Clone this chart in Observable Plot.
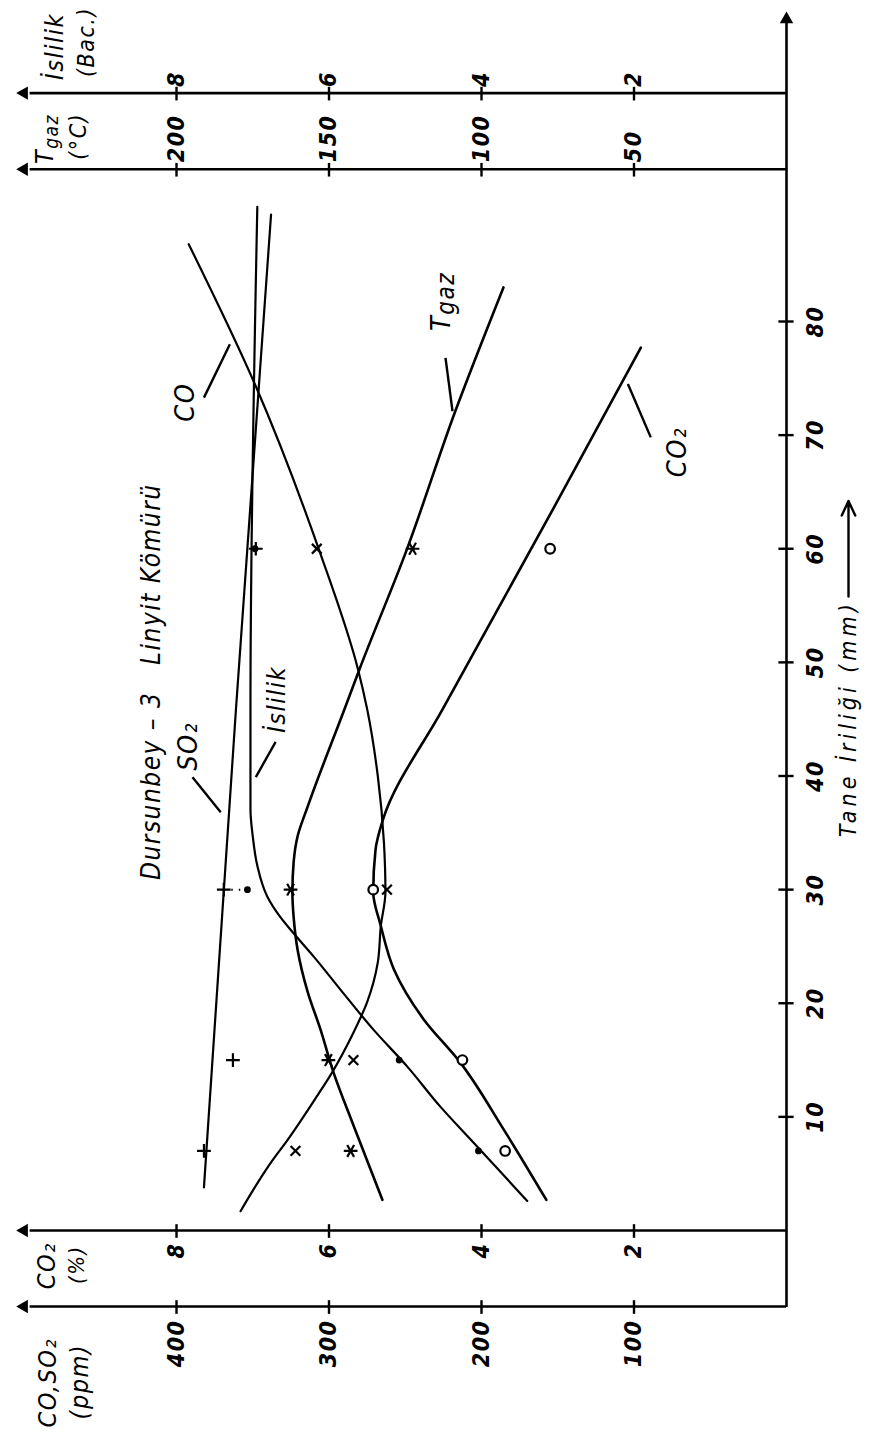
<!DOCTYPE html>
<html>
<head>
<meta charset="utf-8">
<script src="https://cdn.jsdelivr.net/npm/d3@7"></script>
<script src="https://cdn.jsdelivr.net/npm/@observablehq/plot@0.6"></script>
<style>
  html, body { margin: 0; padding: 0; background: #fff; }
  #wrap { position: relative; width: 872px; height: 1438px; overflow: hidden; background: #fff; }
  #chart { position: absolute; left: 0; top: 0; width: 1438px; height: 872px;
           transform-origin: 0 0; transform: translate(0px, 1438px) rotate(-90deg); }
  #chart svg text { letter-spacing: 1.5px; }
</style>
</head>
<body>
<div id="wrap"><div id="chart"></div></div>
<script>
// ---------- tick labels ----------
const mmTicks = [10, 20, 30, 40, 50, 60, 70, 80];
const ppmTicks = [100, 200, 300, 400];
const co2Ticks = [2, 4, 6, 8];
const tgazTicks = [50, 100, 150, 200];
const islilikTicks = [2, 4, 6, 8];

// ---------- measured points (tane iriliği, mm) ----------
const sampleSizes = [7, 15, 30, 60];
const coPoints = [322, 284, 262, 308];          // ppm
const so2Points = [382, 363, 369, 348];         // ppm
const co2Points = [3.69, 4.25, 5.42, 3.10];     // %
const tgazPoints = [142.9, 150.2, 162.6, 122.6];// °C
const islilikPoints = [4.04, 5.08, 7.07, 6.97]; // Bac.

// ---------- fitted curves ----------
const coCurveMm = [1.7, 6.0, 8.0, 11.8, 13.9, 17.4, 20.1, 23.6, 26.8, 29.8, 34.2, 40.0, 45.9, 49.4, 59.7, 74.3, 86.8];
const coCurve   = [358, 338, 327, 308, 298, 284, 275, 268, 266, 263, 264, 268, 275, 281, 306, 348, 392];

const so2CurveMm = [3.8, 45.9, 89.4];
const so2Curve   = [382, 361, 338];

const co2CurveMm = [2.7, 8.9, 14.8, 18.6, 23.0, 26.8, 29.8, 33.5, 36.2, 46.0, 63.5, 77.7];
const co2Curve   = [3.15, 3.71, 4.28, 4.76, 5.15, 5.32, 5.42, 5.39, 5.29, 4.50, 3.06, 1.91];

const tgazCurveMm = [2.7, 9.2, 13.9, 17.7, 21.0, 24.7, 27.6, 29.8, 32.4, 34.7, 37.3, 45.9, 49.4, 59.7, 72.1, 83.0];
const tgazCurve   = [132.5, 141.9, 148.5, 152.8, 157.0, 160.3, 161.6, 162.0, 161.6, 160.3, 157.0, 144.9, 140.0, 124.8, 108.6, 92.8];

const islilikCurveMm = [2.6, 7.7, 10.9, 14.4, 17.7, 21.2, 24.1, 26.2, 27.6, 29.4, 32.1, 34.7, 37.1, 45.9, 90.1];
const islilikCurve   = [3.40, 4.10, 4.54, 4.97, 5.42, 5.85, 6.20, 6.47, 6.64, 6.81, 6.94, 7.00, 7.03, 7.03, 6.94];

// conversion of each quantity onto the shared value scale (ppm axis)
const kCO2 = 50, kTgaz = 2, kIsl = 50;

// ---------- layout (axis positions in mm / ppm-equivalent) ----------
const axPpm = -6.69, axCo2 = 0, axTgaz = 93.4, axIsl = 100.1;
const axTop = 500, taneEnd = 106.6;
const FONT = "'DejaVu Sans Condensed', 'Liberation Sans Narrow', 'DejaVu Sans', sans-serif";

const tbl = (xs, ys, k = 1) => xs.map((x, i) => ({x, y: ys[i] * k}));

const curves = [
  {d: tbl(coCurveMm, coCurve), w: 2.2},
  {d: tbl(so2CurveMm, so2Curve), w: 2.2},
  {d: tbl(co2CurveMm, co2Curve, kCO2), w: 2.6},
  {d: tbl(tgazCurveMm, tgazCurve, kTgaz), w: 2.6},
  {d: tbl(islilikCurveMm, islilikCurve, kIsl), w: 2.2}
];

// curve labels + leaders (annotation anchors in data units)
const curveLabels = [
  {t: "CO", x: 72.9, y: 394},
  {t: "CO\u2082", x: 68.5, y: 71.5},
  {t: "SO\u2082", x: 42.6, y: 392},
];
const leaders = [
  {x1: 73.3, y1: 382, x2: 78.0, y2: 365},
  {x1: 76.8, y1: 223.6, x2: 72.1, y2: 219},
  {x1: 74.5, y1: 104, x2: 69.8, y2: 89},
  {x1: 39.9, y1: 389.5, x2: 36.8, y2: 371},
  {x1: 39.9, y1: 348, x2: 43.0, y2: 335}
];

const valueAxes = [axPpm, axCo2, axTgaz, axIsl];
const tickText = {fontSize: 23, fontWeight: "bold"};

const chart = Plot.plot({
  width: 1438, height: 872,
  marginLeft: 207, marginRight: 322, marginTop: 176, marginBottom: 86,
  x: {domain: [0, 80], axis: null},
  y: {domain: [0, 400], axis: null},
  style: {fontFamily: FONT, fontSize: "23px", fontStyle: "italic", background: "white", color: "black"},
  marks: [
    // axis lines
    Plot.ruleY([0], {x1: axPpm, x2: taneEnd, stroke: "black", strokeWidth: 2.6}),
    Plot.dot([taneEnd], {x: d => d, y: 0, symbol: "triangle", r: 5, rotate: 90, fill: "black"}),
    Plot.ruleX(valueAxes, {x: d => d, y1: 0, y2: axTop - 4, stroke: "black", strokeWidth: 2.6}),
    Plot.dot(valueAxes, {x: d => d, y: axTop, symbol: "triangle", r: 5, fill: "black"}),

    // ticks
    Plot.ruleX(mmTicks, {x: d => d, y1: -5, y2: 5, stroke: "black", strokeWidth: 2.4}),
    Plot.ruleY(ppmTicks, {y: d => d, x1: axPpm - 0.6, x2: axPpm + 0.6, stroke: "black", strokeWidth: 2.4}),
    Plot.ruleY(co2Ticks, {y: d => d * kCO2, x1: axCo2 - 0.6, x2: axCo2 + 0.6, stroke: "black", strokeWidth: 2.4}),
    Plot.ruleY(tgazTicks, {y: d => d * kTgaz, x1: axTgaz - 0.6, x2: axTgaz + 0.6, stroke: "black", strokeWidth: 2.4}),
    Plot.ruleY(islilikTicks, {y: d => d * kIsl, x1: axIsl - 0.6, x2: axIsl + 0.6, stroke: "black", strokeWidth: 2.4}),

    // tick labels
    Plot.text(mmTicks, {x: d => d, y: 0, text: d => String(d), dy: 29, ...tickText}),
    Plot.text(ppmTicks, {x: axPpm, y: d => d, text: d => String(d), dx: -13, textAnchor: "end", ...tickText}),
    Plot.text(co2Ticks, {x: axCo2, y: d => d * kCO2, text: d => String(d), dx: -12, textAnchor: "end", ...tickText}),
    Plot.text(tgazTicks, {x: axTgaz, y: d => d * kTgaz, text: d => String(d), dx: 7, textAnchor: "start", ...tickText}),
    Plot.text(islilikTicks, {x: axIsl, y: d => d * kIsl, text: d => String(d), dx: 6, textAnchor: "start", ...tickText}),

    // axis titles
    Plot.text(["CO,SO\u2082"], {x: -13.4, y: 484, text: d => d, fontSize: 25}),
    Plot.text(["(ppm)"], {x: -13.3, y: 463, text: d => d, fontSize: 25}),
    Plot.text(["CO\u2082"], {x: -3.1, y: 485, text: d => d, fontSize: 25}),
    Plot.text(["(%)"], {x: -3.0, y: 465, text: d => d, fontSize: 22}),
    Plot.text(["T"], {x: 95.2, y: 486, text: d => d, fontSize: 25, textAnchor: "end"}),
    Plot.text(["gaz"], {x: 95.2, y: 486, text: d => d, fontSize: 19, textAnchor: "start", dy: 7}),
    Plot.text(["(°C)"], {x: 96.3, y: 464, text: d => d, fontSize: 23}),
    Plot.text(["\u0130slilik"], {x: 104.2, y: 480, text: d => d, fontSize: 25}),
    Plot.text(["(Bac.)"], {x: 104.6, y: 459, text: d => d, fontSize: 23}),
    Plot.text(["Tane \u0130rili\u011fi (mm)"], {x: 34.6, y: 0, text: d => d, dy: 62, textAnchor: "start", fontSize: 23}),
    Plot.arrow([0], {x1: 55.8, x2: 64.2, y1: 0, y2: 0, dy: 62, stroke: "black", strokeWidth: 2.4, headLength: 10, headAngle: 50}),

    // title
    Plot.text(["Dursunbey \u2013 3   Linyit Kömürü"], {x: 48.3, y: 416, text: d => d, fontSize: 26}),

    // curves
    ...curves.map(c => Plot.line(c.d, {x: "x", y: "y", curve: "monotone-x", stroke: "black", strokeWidth: c.w})),

    // measured points
    Plot.link([0], {x1: sampleSizes[2], x2: sampleSizes[2], y1: so2Points[2], y2: islilikPoints[2] * kIsl,
                    stroke: "black", strokeWidth: 2, strokeDasharray: "1.5 6"}),
    Plot.dot(sampleSizes, {x: d => d, y: (d, i) => so2Points[i], symbol: "plus", r: 4.5, stroke: "black", strokeWidth: 2.2}),
    Plot.dot(sampleSizes, {x: d => d, y: (d, i) => coPoints[i], symbol: "times", r: 4.5, stroke: "black", strokeWidth: 2.2}),
    Plot.dot(sampleSizes, {x: d => d, y: (d, i) => tgazPoints[i] * kTgaz, symbol: "asterisk", r: 6.5, stroke: "black", strokeWidth: 2.2}),
    Plot.dot(sampleSizes, {x: d => d, y: (d, i) => islilikPoints[i] * kIsl, symbol: "circle", r: 3.4, fill: "black"}),
    Plot.dot(sampleSizes, {x: d => d, y: (d, i) => co2Points[i] * kCO2, symbol: "circle", r: 4.8, fill: "white", stroke: "black", strokeWidth: 2.2}),

    // curve labels and leaders
    Plot.link(leaders, {x1: "x1", y1: "y1", x2: "x2", y2: "y2", stroke: "black", strokeWidth: 2.4}),
    Plot.text(curveLabels, {x: "x", y: "y", text: "t", fontSize: 27}),
    Plot.text(["T"], {x: 80.6, y: 226, text: d => d, fontSize: 27, textAnchor: "end"}),
    Plot.text(["gaz"], {x: 80.6, y: 226, text: d => d, fontSize: 24, textAnchor: "start", dy: 4}),
    Plot.text(["\u0130slilik"], {x: 43.8, y: 334, text: d => d, fontSize: 25, textAnchor: "start"})
  ]
});
// wider lettering for the size-axis caption, as in the figure
d3.select(chart).selectAll("text")
  .filter(function () { return this.textContent.startsWith("Tane"); })
  .style("letter-spacing", "4px");
document.getElementById("chart").appendChild(chart);
</script>
</body>
</html>
